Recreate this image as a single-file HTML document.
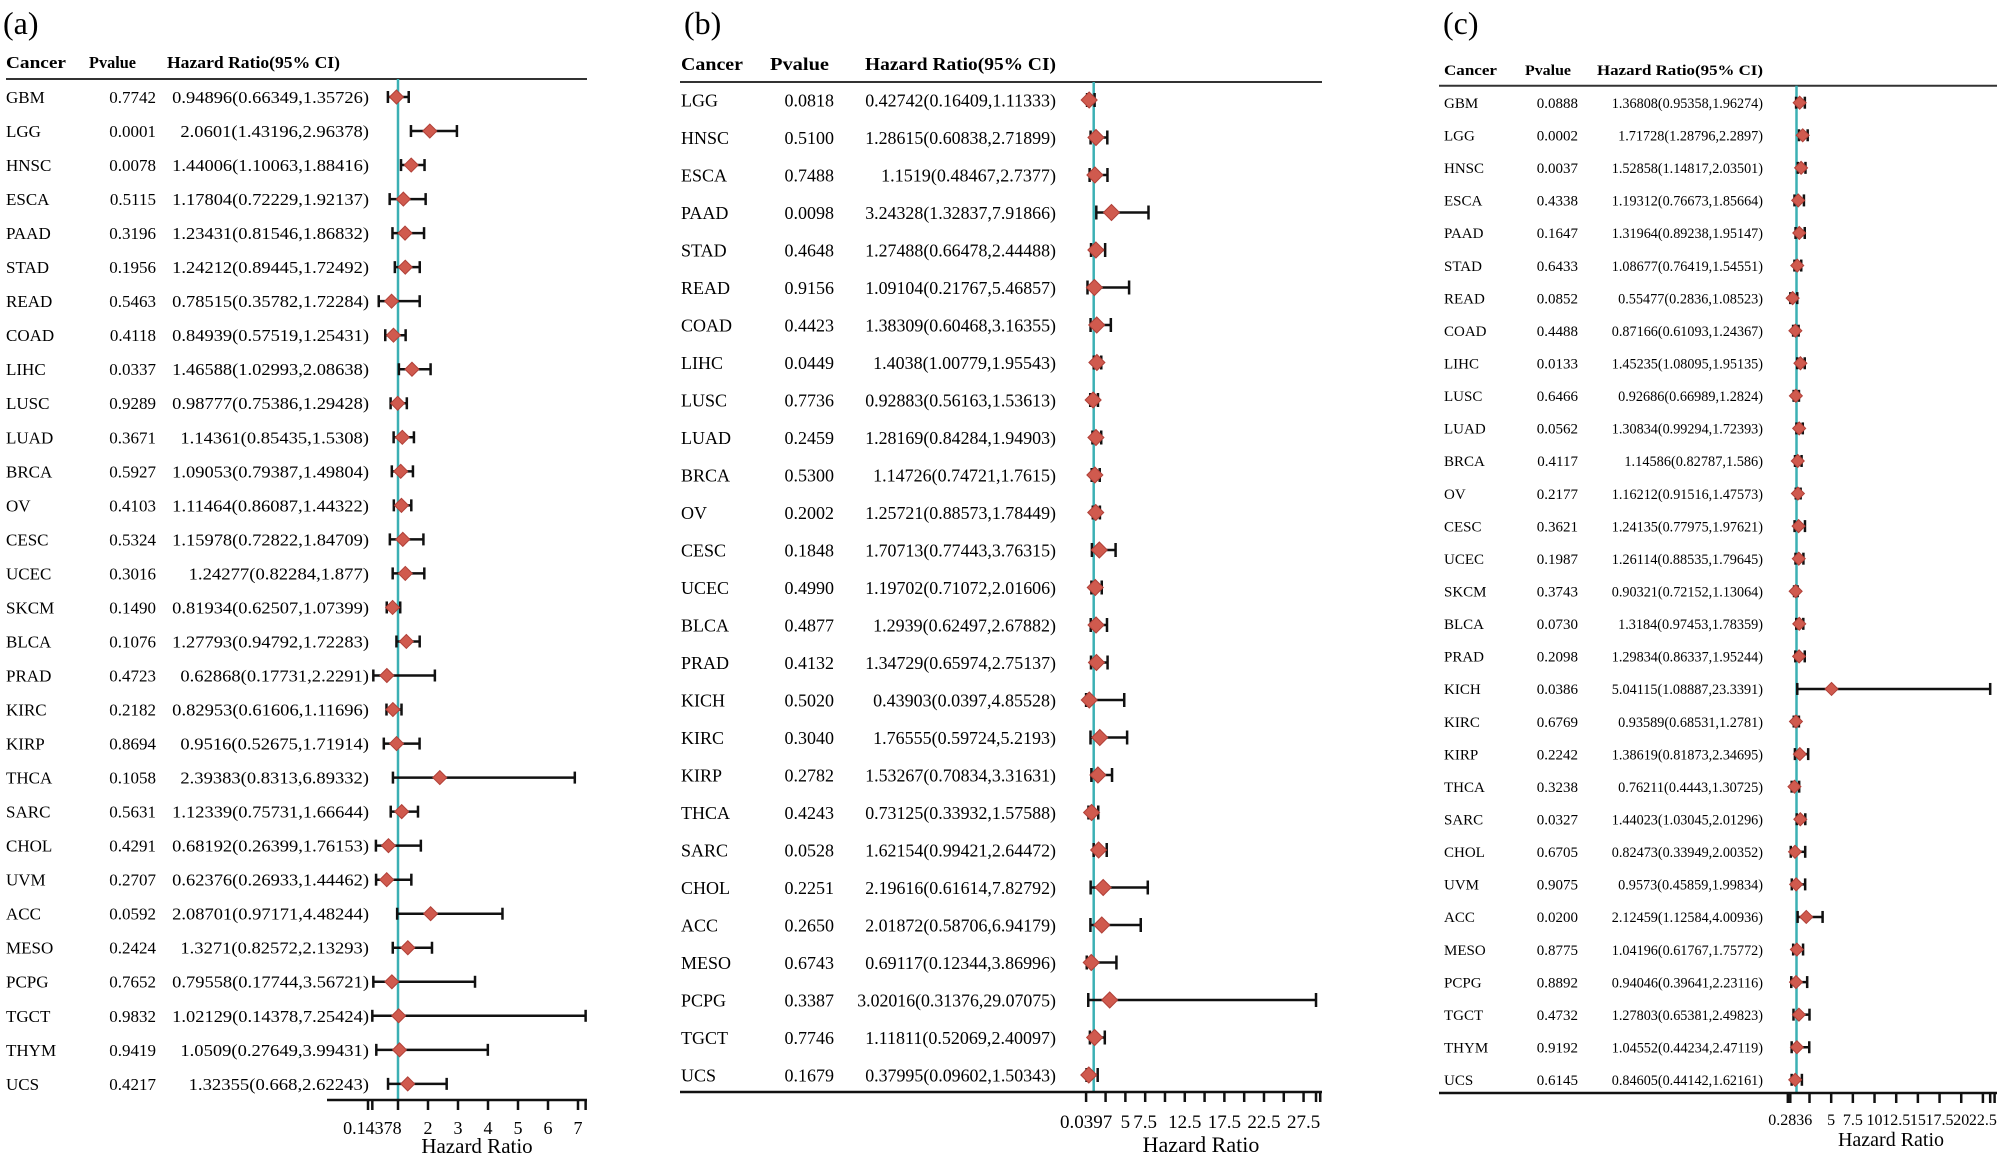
<!DOCTYPE html>
<html><head><meta charset="utf-8"><style>
html,body{margin:0;padding:0;background:#fff;}
svg{display:block;font-family:"Liberation Serif",serif;}
</style></head><body>
<svg id="chart" width="2000" height="1159" viewBox="0 0 2000 1159" xmlns="http://www.w3.org/2000/svg">
<rect x="0" y="0" width="2000" height="1159" fill="#fff"/>
</svg>
<script>
// ---------- Panel (a) data ----------
const cancersA = ["GBM","LGG","HNSC","ESCA","PAAD","STAD","READ","COAD","LIHC","LUSC","LUAD","BRCA","OV","CESC","UCEC","SKCM","BLCA","PRAD","KIRC","KIRP","THCA","SARC","CHOL","UVM","ACC","MESO","PCPG","TGCT","THYM","UCS"];
const pvalA = ["0.7742","0.0001","0.0078","0.5115","0.3196","0.1956","0.5463","0.4118","0.0337","0.9289","0.3671","0.5927","0.4103","0.5324","0.3016","0.1490","0.1076","0.4723","0.2182","0.8694","0.1058","0.5631","0.4291","0.2707","0.0592","0.2424","0.7652","0.9832","0.9419","0.4217"];
const hrA = ["0.94896","2.0601","1.44006","1.17804","1.23431","1.24212","0.78515","0.84939","1.46588","0.98777","1.14361","1.09053","1.11464","1.15978","1.24277","0.81934","1.27793","0.62868","0.82953","0.9516","2.39383","1.12339","0.68192","0.62376","2.08701","1.3271","0.79558","1.02129","1.0509","1.32355"];
const lowA = ["0.66349","1.43196","1.10063","0.72229","0.81546","0.89445","0.35782","0.57519","1.02993","0.75386","0.85435","0.79387","0.86087","0.72822","0.82284","0.62507","0.94792","0.17731","0.61606","0.52675","0.8313","0.75731","0.26399","0.26933","0.97171","0.82572","0.17744","0.14378","0.27649","0.668"];
const highA = ["1.35726","2.96378","1.88416","1.92137","1.86832","1.72492","1.72284","1.25431","2.08638","1.29428","1.5308","1.49804","1.44322","1.84709","1.877","1.07399","1.72283","2.2291","1.11696","1.71914","6.89332","1.66644","1.76153","1.44462","4.48244","2.13293","3.56721","7.25424","3.99431","2.62243"];
const ticksA = [0, 0.14378, 1, 2, 3, 4, 5, 6, 7, 7.25424];
const tickLabelsA = ["", "0.14378", "", "2", "3", "4", "5", "6", "7", ""];

// ---------- Panel (b) data ----------
const cancersB = ["LGG","HNSC","ESCA","PAAD","STAD","READ","COAD","LIHC","LUSC","LUAD","BRCA","OV","CESC","UCEC","BLCA","PRAD","KICH","KIRC","KIRP","THCA","SARC","CHOL","ACC","MESO","PCPG","TGCT","UCS"];
const pvalB = ["0.0818","0.5100","0.7488","0.0098","0.4648","0.9156","0.4423","0.0449","0.7736","0.2459","0.5300","0.2002","0.1848","0.4990","0.4877","0.4132","0.5020","0.3040","0.2782","0.4243","0.0528","0.2251","0.2650","0.6743","0.3387","0.7746","0.1679"];
const hrB = ["0.42742","1.28615","1.1519","3.24328","1.27488","1.09104","1.38309","1.4038","0.92883","1.28169","1.14726","1.25721","1.70713","1.19702","1.2939","1.34729","0.43903","1.76555","1.53267","0.73125","1.62154","2.19616","2.01872","0.69117","3.02016","1.11811","0.37995"];
const lowB = ["0.16409","0.60838","0.48467","1.32837","0.66478","0.21767","0.60468","1.00779","0.56163","0.84284","0.74721","0.88573","0.77443","0.71072","0.62497","0.65974","0.0397","0.59724","0.70834","0.33932","0.99421","0.61614","0.58706","0.12344","0.31376","0.52069","0.09602"];
const highB = ["1.11333","2.71899","2.7377","7.91866","2.44488","5.46857","3.16355","1.95543","1.53613","1.94903","1.7615","1.78449","3.76315","2.01606","2.67882","2.75137","4.85528","5.2193","3.31631","1.57588","2.64472","7.82792","6.94179","3.86996","29.07075","2.40097","1.50343"];
const ticksB = [0.0397, 2.5, 5, 7.5, 10, 12.5, 15, 17.5, 20, 22.5, 25, 27.5, 29.07075, 29.6];
const tickLabelsB = ["0.0397", "", "5", "7.5", "", "12.5", "", "17.5", "", "22.5", "", "27.5", "", ""];

// ---------- Panel (c) data ----------
const cancersC = ["GBM","LGG","HNSC","ESCA","PAAD","STAD","READ","COAD","LIHC","LUSC","LUAD","BRCA","OV","CESC","UCEC","SKCM","BLCA","PRAD","KICH","KIRC","KIRP","THCA","SARC","CHOL","UVM","ACC","MESO","PCPG","TGCT","THYM","UCS"];
const pvalC = ["0.0888","0.0002","0.0037","0.4338","0.1647","0.6433","0.0852","0.4488","0.0133","0.6466","0.0562","0.4117","0.2177","0.3621","0.1987","0.3743","0.0730","0.2098","0.0386","0.6769","0.2242","0.3238","0.0327","0.6705","0.9075","0.0200","0.8775","0.8892","0.4732","0.9192","0.6145"];
const hrC = ["1.36808","1.71728","1.52858","1.19312","1.31964","1.08677","0.55477","0.87166","1.45235","0.92686","1.30834","1.14586","1.16212","1.24135","1.26114","0.90321","1.3184","1.29834","5.04115","0.93589","1.38619","0.76211","1.44023","0.82473","0.9573","2.12459","1.04196","0.94046","1.27803","1.04552","0.84605"];
const lowC = ["0.95358","1.28796","1.14817","0.76673","0.89238","0.76419","0.2836","0.61093","1.08095","0.66989","0.99294","0.82787","0.91516","0.77975","0.88535","0.72152","0.97453","0.86337","1.08887","0.68531","0.81873","0.4443","1.03045","0.33949","0.45859","1.12584","0.61767","0.39641","0.65381","0.44234","0.44142"];
const highC = ["1.96274","2.2897","2.03501","1.85664","1.95147","1.54551","1.08523","1.24367","1.95135","1.2824","1.72393","1.586","1.47573","1.97621","1.79645","1.13064","1.78359","1.95244","23.3391","1.2781","2.34695","1.30725","2.01296","2.00352","1.99834","4.00936","1.75772","2.23116","2.49823","2.47119","1.62161"];
const ticksC = [0, 0.2836, 2.5, 5, 7.5, 10, 12.5, 15, 17.5, 20, 22.5, 23.3391, 23.85];
const tickLabelsC = ["", "0.2836", "", "5", "7.5", "10", "12.5", "15", "17.5", "20", "22.5", "", ""];

const svg = document.getElementById('chart');
const NS = 'http://www.w3.org/2000/svg';
function mk(tag, attrs, parent) {
  const e = document.createElementNS(NS, tag);
  for (const k in attrs) e.setAttribute(k, attrs[k]);
  (parent || svg).appendChild(e);
  return e;
}

function panel(cfg, cancers, pvals, hrs, lows, highs, ticks, tickLabels) {
  const g = mk('g', {});
  
  
  const xs = v => cfg.x1 + (v - 1) * cfg.ppu;
  const ys = i => cfg.row0 + i * cfg.rowH;

  const lab = mk('text', {x: cfg.labX, y: 34, 'font-size': 32}, g);
  lab.textContent = '(' + cfg.id + ')';
  
  

  const heads = [['Cancer', cfg.cCancer, cfg.wCancer], ['Pvalue', cfg.cP, cfg.wP], ['Hazard Ratio(95% CI)', cfg.cHR, cfg.wHR]];
  heads.forEach(h => {
    const t = mk('text', {x: h[1], y: cfg.headY, 'font-size': cfg.fs, 'font-weight': 'bold', textLength: h[2], lengthAdjust: 'spacingAndGlyphs'}, g);
    t.textContent = h[0];
    
    
  });
  const hl = mk('line', {x1: cfg.lineL, x2: cfg.lineR, y1: cfg.headLine, y2: cfg.headLine, stroke: '#333', 'stroke-width': 2}, g);
  
  

  const ref = mk('line', {x1: xs(1), x2: xs(1), y1: cfg.headLine, y2: cfg.axisY, stroke: '#3bb0b4', 'stroke-width': 2.5}, g);
  
  

  cancers.forEach((c, i) => {
    const y = ys(i);
    const by = y + cfg.fs * 0.35;
    const t1 = mk('text', {x: cfg.cCancer, y: by, 'font-size': cfg.fs}, g);
    t1.textContent = c;
    
    
    const t2 = mk('text', {x: cfg.pR, y: by, 'font-size': cfg.fs, 'text-anchor': 'end'}, g);
    t2.textContent = pvals[i];
    
    
    const s = hrs[i] + '(' + lows[i] + ',' + highs[i] + ')';
    const t3 = mk('text', {x: cfg.hrR, y: by, 'font-size': cfg.fs, 'text-anchor': 'end', textLength: s.length * cfg.cw, lengthAdjust: 'spacingAndGlyphs'}, g);
    t3.textContent = s;
    
    

    const lo = xs(parseFloat(lows[i])), hi = xs(parseFloat(highs[i])), hx = xs(parseFloat(hrs[i]));
    const ci = mk('g', {stroke: '#111', 'stroke-width': cfg.lw}, g);
    
    
    mk('line', {x1: lo, x2: hi, y1: y, y2: y}, ci);
    mk('line', {x1: lo, x2: lo, y1: y - cfg.cap, y2: y + cfg.cap}, ci);
    mk('line', {x1: hi, x2: hi, y1: y - cfg.cap, y2: y + cfg.cap}, ci);
    const d = cfg.dm;
    const dia = mk('polygon', {points: `${hx - d},${y} ${hx},${y - d} ${hx + d},${y} ${hx},${y + d}`, fill: '#d05a4e', stroke: '#b04038', 'stroke-width': 1}, g);
    
    
  });

  const ax = mk('line', {x1: cfg.axL, x2: cfg.lineR, y1: cfg.axisY, y2: cfg.axisY, stroke: '#111', 'stroke-width': 2.5}, g);
  
  
  ticks.forEach((v, i) => {
    const x = xs(v);
    const tk = mk('line', {x1: x, x2: x, y1: cfg.axisY, y2: cfg.axisY + 10, stroke: '#111', 'stroke-width': 2.5}, g);
    
    
    if (tickLabels[i]) {
      const tl = mk('text', {x: x, y: cfg.tickY, 'font-size': cfg.tfs, 'text-anchor': 'middle'}, g);
      tl.textContent = tickLabels[i];
      
      
    }
  });
  const at = mk('text', {x: cfg.titleX, y: cfg.titleY, 'font-size': cfg.afs, 'text-anchor': 'middle'}, g);
  at.textContent = 'Hazard Ratio';
  
  
}

panel({id: 'a', labX: 3, fs: 17, cCancer: 6, wCancer: 60, cP: 89, wP: 47, cHR: 167, wHR: 173, pR: 156, hrR: 369, cw: 8.2,
  headY: 68, headLine: 79, lineL: 6, lineR: 587, row0: 97, rowH: 34.03, x1: 398, ppu: 30, axisY: 1100, axL: 327,
  tickY: 1134, tfs: 18, titleX: 477, titleY: 1153, afs: 21, lw: 2.5, cap: 6, dm: 7}, cancersA, pvalA, hrA, lowA, highA, ticksA, tickLabelsA);
panel({id: 'b', labX: 684, fs: 18, cCancer: 681, wCancer: 62, cP: 770, wP: 59, cHR: 865, wHR: 191, pR: 834, hrR: 1056, cw: 7.95,
  headY: 70, headLine: 82, lineL: 680, lineR: 1322, row0: 100, rowH: 37.5, x1: 1093.7, ppu: 7.92, axisY: 1092, axL: 680,
  tickY: 1128, tfs: 19, titleX: 1201, titleY: 1152, afs: 22, lw: 2.5, cap: 7, dm: 8}, cancersB, pvalB, hrB, lowB, highB, ticksB, tickLabelsB);
panel({id: 'c', labX: 1443, fs: 15, cCancer: 1444, wCancer: 53, cP: 1525, wP: 46, cHR: 1597, wHR: 166, pR: 1578, hrR: 1763, cw: 6.3,
  headY: 75, headLine: 85.7, lineL: 1439, lineR: 1997, row0: 102.7, rowH: 32.57, x1: 1796.5, ppu: 8.67, axisY: 1093, axL: 1439,
  tickY: 1125, tfs: 16, titleX: 1891, titleY: 1146, afs: 20, lw: 2.5, cap: 6, dm: 6.5}, cancersC, pvalC, hrC, lowC, highC, ticksC, tickLabelsC);
</script>
</body></html>
